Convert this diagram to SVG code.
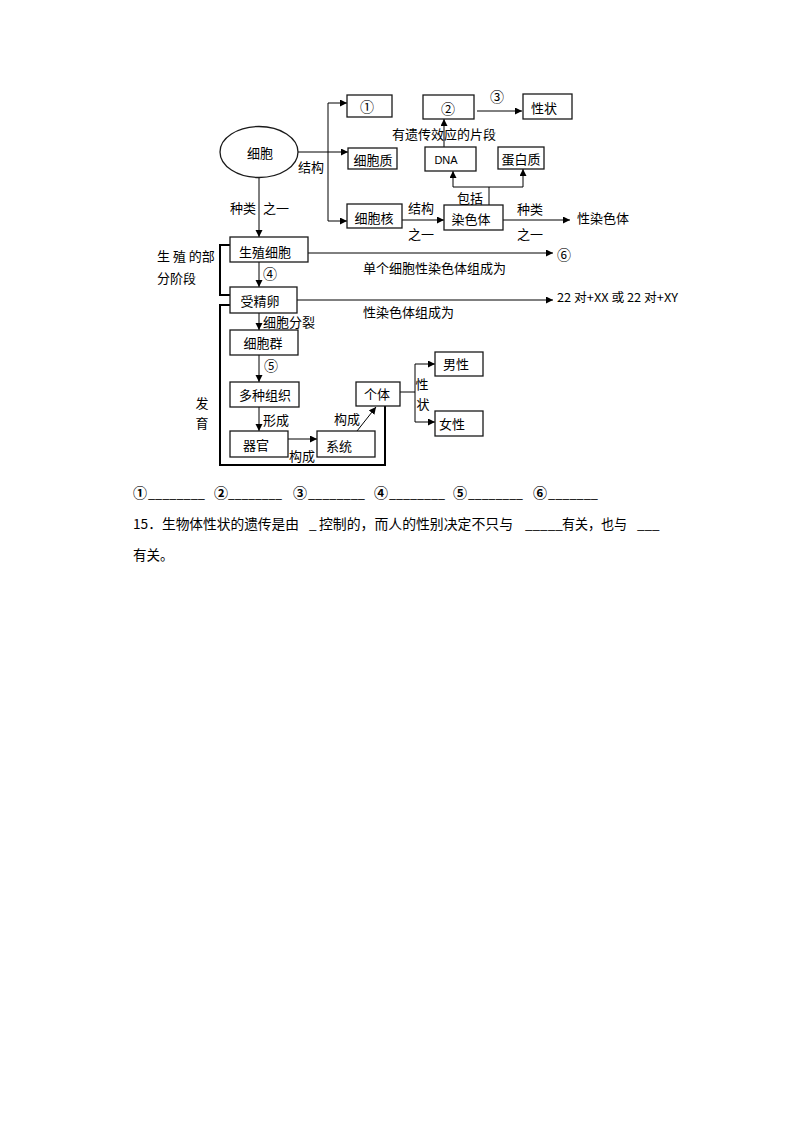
<svg xmlns="http://www.w3.org/2000/svg" width="794" height="1123" viewBox="0 0 794 1123">
<style>
.bx{fill:#fff;stroke:#1a1a1a;stroke-width:1.3}
.ln{fill:none;stroke:#000;stroke-width:1}
.ar{fill:none;stroke:#000;stroke-width:1;marker-end:url(#ah)}
.thick{fill:none;stroke:#000;stroke-width:2}
text{font-family:"Noto Sans CJK SC","Noto Sans",sans-serif;font-size:13px;fill:#000;dominant-baseline:central}
.c{text-anchor:middle}
.e{text-anchor:end}
.q{font-family:"Noto Sans CJK SC","Noto Sans",sans-serif;font-size:13.5px}
.b{font-weight:bold;font-size:14px}
.cn{font-size:14px}
</style>
<defs>
<marker id="ah" markerWidth="8" markerHeight="8" refX="7" refY="3.5" orient="auto" markerUnits="userSpaceOnUse">
<path d="M0,0 L7,3.5 L0,7 z" fill="#000"/>
</marker>
</defs>
<rect width="794" height="1123" fill="#fff"/>

<g id="connectors">
<line class="ln" x1="328" y1="103" x2="328" y2="221"/>
<line class="ar" x1="328" y1="103" x2="347" y2="103"/>
<line class="ar" x1="298" y1="152" x2="348" y2="152"/>
<line class="ar" x1="328" y1="221" x2="347" y2="221"/>
<line class="ar" x1="259" y1="178" x2="259" y2="237"/>
<line class="ar" x1="477" y1="111" x2="522" y2="111"/>
<line class="ar" x1="444" y1="147" x2="444" y2="119"/>
<line class="ln" x1="489" y1="205" x2="489" y2="187"/>
<line class="ln" x1="453" y1="187" x2="523" y2="187"/>
<line class="ar" x1="453" y1="187" x2="453" y2="171"/>
<line class="ar" x1="523" y1="187" x2="523" y2="169"/>
<line class="ar" x1="402" y1="220" x2="444" y2="220"/>
<line class="ar" x1="503" y1="220" x2="570" y2="220"/>
<path class="thick" d="M230,245 H220 V295 H230"/>
<line class="ar" x1="259" y1="262" x2="259" y2="287"/>
<line class="ar" x1="308" y1="253" x2="553" y2="253"/>
<line class="ar" x1="297" y1="300" x2="553" y2="300"/>
<path class="thick" d="M230,305 H220 V465 H385 V406"/>
<line class="ar" x1="259" y1="313" x2="259" y2="330"/>
<line class="ar" x1="259" y1="355" x2="259" y2="382"/>
<line class="ar" x1="259" y1="407" x2="259" y2="431"/>
<line class="ar" x1="288" y1="439" x2="317" y2="439"/>
<line class="ar" x1="357" y1="431" x2="376" y2="407"/>
<line class="ln" x1="400" y1="392" x2="415" y2="392"/>
<line class="ln" x1="415" y1="364" x2="415" y2="422"/>
<line class="ar" x1="415" y1="364" x2="435" y2="364"/>
<line class="ar" x1="415" y1="422" x2="435" y2="422"/>
</g>

<g id="cell"><ellipse cx="259" cy="152" rx="39" ry="25.5" fill="#fff" stroke="#1a1a1a" stroke-width="1.3"/><text class="c" x="260" y="152">细胞</text></g>
<g id="n1"><rect class="bx" x="347" y="95" width="45" height="22"/><text class="c cn" x="367" y="106">①</text></g>
<g id="cytoplasm"><rect class="bx" x="348" y="148" width="49" height="21"/><text class="c" x="373" y="159">细胞质</text></g>
<g id="nucleus"><rect class="bx" x="347" y="204" width="55" height="24"/><text class="c" x="374" y="217">细胞核</text></g>
<g id="n2"><rect class="bx" x="423" y="95" width="51" height="24"/><text class="c cn" x="448" y="108">②</text></g>
<g id="trait"><rect class="bx" x="523" y="94" width="49" height="25"/><text class="c" x="544" y="107">性状</text></g>
<g id="dna"><rect class="bx" x="425" y="147" width="51" height="24"/><text class="c" x="446" y="160" style="font-family:'Liberation Sans',Arial,sans-serif;font-size:11px">DNA</text></g>
<g id="protein"><rect class="bx" x="498" y="147" width="46" height="22"/><text class="c" x="521" y="158">蛋白质</text></g>
<g id="chromosome"><rect class="bx" x="444" y="205" width="59" height="25"/><text class="c" x="471" y="218">染色体</text></g>
<g id="germcell"><rect class="bx" x="230" y="237" width="78" height="25"/><text class="c" x="265" y="251">生殖细胞</text></g>
<g id="zygote"><rect class="bx" x="230" y="287" width="67" height="26"/><text class="c" x="260" y="300">受精卵</text></g>
<g id="cellgroup"><rect class="bx" x="230" y="330" width="68" height="25"/><text class="c" x="263" y="342">细胞群</text></g>
<g id="tissues"><rect class="bx" x="230" y="382" width="69" height="25"/><text class="c" x="265" y="394">多种组织</text></g>
<g id="organ"><rect class="bx" x="230" y="431" width="58" height="26"/><text class="c" x="256" y="444">器官</text></g>
<g id="system"><rect class="bx" x="317" y="431" width="58" height="26"/><text class="c" x="339" y="445">系统</text></g>
<g id="individual"><rect class="bx" x="356" y="382" width="44" height="24"/><text class="c" x="377" y="393">个体</text></g>
<g id="male"><rect class="bx" x="435" y="352" width="48" height="24"/><text class="c" x="456" y="363">男性</text></g>
<g id="female"><rect class="bx" x="435" y="411" width="48" height="25"/><text class="c" x="452" y="423">女性</text></g>
<g id="sexchrom"><text x="577" y="217">性染色体</text></g>
<g id="n6"><text class="c cn" x="564" y="254">⑥</text></g>
<g id="karyotype"><text x="557" y="296" style="font-size:12px" textLength="121" lengthAdjust="spacingAndGlyphs">22 对+XX 或 22 对+XY</text></g>

<g id="labels">
<text x="298" y="166">结构</text>
<text class="e" x="256" y="207">种类</text>
<text x="263" y="207">之一</text>
<text class="c cn" x="497" y="96">③</text>
<text x="392" y="133">有遗传效应的片段</text>
<text class="c" x="470" y="197">包括</text>
<text class="c" x="421" y="207">结构</text>
<text class="c" x="421" y="233">之一</text>
<text class="c" x="530" y="208">种类</text>
<text class="c" x="530" y="233">之一</text>
<text x="157" y="255">生 殖 的部</text>
<text x="157" y="277">分阶段</text>
<text class="c cn" x="270" y="273">④</text>
<text x="363" y="267">单个细胞性染色体组成为</text>
<text x="363" y="311">性染色体组成为</text>
<text x="263" y="321">细胞分裂</text>
<text class="c cn" x="271" y="365">⑤</text>
<text class="c" x="276" y="419">形成</text>
<text class="c" x="302" y="455">构成</text>
<text class="c" x="347" y="418">构成</text>
<text class="c" x="422" y="383">性</text>
<text class="c" x="423" y="403">状</text>
<text class="c" x="202" y="402">发</text>
<text class="c" x="202" y="422">育</text>
</g>

<g id="question">
<text class="q b" x="133" y="492">①</text>
<text class="q" x="148" y="492" textLength="57" lengthAdjust="spacingAndGlyphs">________</text>
<text class="q b" x="214" y="492">②</text>
<text class="q" x="228" y="492" textLength="54" lengthAdjust="spacingAndGlyphs">________</text>
<text class="q b" x="293" y="492">③</text>
<text class="q" x="308" y="492" textLength="57" lengthAdjust="spacingAndGlyphs">________</text>
<text class="q b" x="374" y="492">④</text>
<text class="q" x="389" y="492" textLength="56" lengthAdjust="spacingAndGlyphs">________</text>
<text class="q b" x="453" y="492">⑤</text>
<text class="q" x="468" y="492" textLength="55" lengthAdjust="spacingAndGlyphs">________</text>
<text class="q b" x="533" y="492">⑥</text>
<text class="q" x="548" y="492" textLength="50" lengthAdjust="spacingAndGlyphs">_______</text>
<text class="q" x="133" y="523" textLength="166" lengthAdjust="spacingAndGlyphs">15．生物体性状的遗传是由</text>
<text class="q" x="309" y="523">_</text>
<text class="q" x="319" y="523" textLength="194" lengthAdjust="spacingAndGlyphs">控制的，而人的性别决定不只与</text>
<text class="q" x="525" y="523">_____</text>
<text class="q" x="562" y="523" textLength="65" lengthAdjust="spacingAndGlyphs">有关，也与</text>
<text class="q" x="637" y="523">___</text>
<text class="q" x="133" y="554">有关。</text>
</g>
</svg>
